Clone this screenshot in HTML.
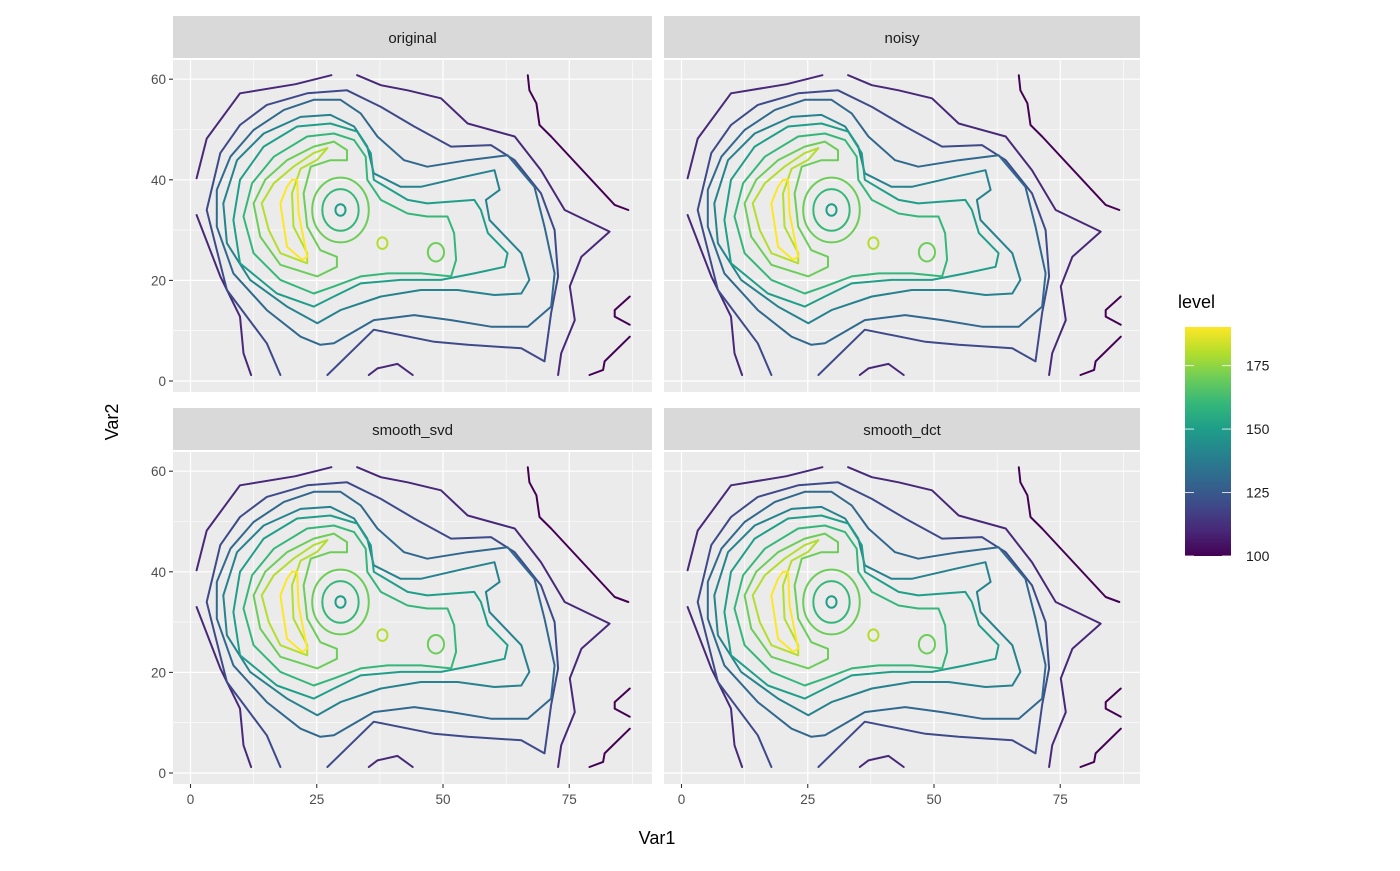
<!DOCTYPE html>
<html><head><meta charset="utf-8">
<style>
html,body{margin:0;padding:0;background:#fff;}
svg text{font-family:"Liberation Sans",Arial,sans-serif;}
</style></head>
<body>
<svg id="chart" width="1400" height="866" xmlns="http://www.w3.org/2000/svg"></svg>
<script>
// ---- data (contour lines in data units: [x,y,x,y,...]) ----
const panelNames = ["original","noisy","smooth_svd","smooth_dct"];
const xTicks = [0,25,50,75];
const yTicks = [0,20,40,60];
const legendTicks = [100,125,150,175];
const lineLevels = [100,100,100,110,110,110,110,120,130,140,150,160,170,180,190];
const linePoints = [
 [66.8,60.8,67.1,57.8,68.5,55.2,69.1,50.9,71.4,48.6,84.0,35.0,86.7,34.0],
 [87.0,16.8,84.0,14.1,84.0,12.8,87.0,11.2],
 [87.0,8.8,82.0,3.9,81.7,2.2,79.0,1.2],
 [1.2,33.0,5.9,20.8,9.8,12.8,10.5,5.5,12.0,1.2],
 [1.2,40.3,3.2,48.2,9.8,57.2,20.8,59.0,27.9,60.8],
 [33.0,60.8,37.7,58.8,43.0,57.8,49.6,56.2,54.9,51.2,64.2,48.6,69.4,41.9,74.1,34.0,83.0,29.7,77.4,24.7,75.1,18.8,76.1,12.1,73.4,5.5,72.8,1.2],
 [35.3,1.2,37.0,2.5,41.0,3.4,44.0,1.2],
 [17.8,1.2,15.1,7.5,7.2,18.1,3.2,34.0,5.9,45.3,9.8,50.9,15.1,54.9,23.1,57.2,31.0,57.8,37.7,54.5,44.3,50.6,51.6,46.6,59.5,46.9,64.2,43.9,69.4,37.3,72.1,30.0,72.8,20.8,71.4,13.5,70.1,3.9,65.5,6.5,54.9,7.2,48.3,7.8,36.3,10.2,27.1,1.2],
 [25.7,7.2,21.8,8.8,15.1,14.1,8.5,21.4,5.2,30.7,5.2,38.0,7.9,44.6,12.5,49.9,18.5,53.9,24.4,55.9,29.7,55.9,33.7,53.2,37.0,48.6,42.3,43.9,46.9,42.6,54.9,43.9,62.8,44.9,68.1,38.6,70.1,30.7,72.1,21.4,71.4,14.8,66.8,10.8,59.5,10.8,51.6,12.1,44.3,13.1,36.3,12.1,28.4,7.5,25.7,7.2],
 [25.1,11.5,19.1,14.8,11.8,20.1,7.2,27.4,6.5,35.3,9.2,43.9,14.5,49.2,21.8,52.5,27.7,52.9,32.4,50.6,35.0,46.6,36.3,41.3,41.6,38.6,45.6,38.6,54.2,40.6,60.2,41.9,61.2,38.0,58.5,36.0,59.2,32.0,65.5,25.4,67.1,20.1,65.5,17.4,60.2,17.1,52.9,18.1,45.6,18.1,37.7,16.8,29.7,14.1,25.1,11.5],
 [24.4,14.8,17.1,17.4,9.8,23.4,8.5,32.0,9.8,40.0,14.5,46.6,21.1,50.6,27.7,51.2,33.0,49.6,35.7,45.3,36.3,40.0,43.0,36.0,46.9,35.3,56.2,36.0,57.5,34.0,58.9,29.4,62.8,25.4,62.2,22.7,56.2,21.4,49.6,20.1,41.6,20.1,33.7,19.4,28.4,16.8,24.4,14.8],
 [24.4,17.4,17.8,20.1,12.5,25.4,10.5,32.7,12.2,39.3,16.5,44.6,23.1,48.6,28.4,49.2,32.4,47.9,34.7,44.6,35.0,40.0,37.7,36.0,43.0,33.3,46.9,32.7,50.9,32.7,52.2,29.4,52.6,24.1,51.6,20.8,45.6,21.4,39.0,21.4,33.7,20.8,28.4,18.8,24.4,17.4],
 [25.1,20.8,17.8,23.1,13.8,28.7,12.5,35.3,14.8,40.0,19.1,43.9,24.4,46.6,28.4,47.6,31.0,45.9,31.0,43.9,27.7,43.9,23.8,42.6,22.4,37.3,23.1,30.7,25.7,26.0,29.0,24.7,29.0,22.7,25.1,20.8],
 [23.1,23.4,17.8,25.4,15.5,30.0,14.1,35.3,16.5,39.3,20.4,42.6,24.4,45.3,27.1,46.3,25.1,44.0,21.8,42.2,20.1,37.3,20.4,30.7,23.1,25.4,23.1,23.4],
 [20.1,40.0,21.1,40.0,21.4,33.3,23.1,24.7,22.1,24.1,19.1,26.7,18.1,33.3,17.8,35.3,19.1,38.6,20.1,40.0]
];
// closed rings: center x, center y, radius (data units), level
const ringX = [29.7,29.7,29.7,38.0,48.6];
const ringY = [34.0,34.0,34.0,27.4,25.6];
const ringR = [5.6,3.6,1.0,1.0,1.6];
const ringLevels = [170,160,150,180,170];

// ---- layout ----
const svg = document.getElementById('chart');
const NS = 'http://www.w3.org/2000/svg';
function mk(tag, attrs, parent){const e=document.createElementNS(NS,tag);for(const k in attrs)e.setAttribute(k,attrs[k]);(parent||svg).appendChild(e);return e;}
const panels = [
 {left:173,right:652,top:60,bottom:392,stripTop:16,x0:190.5,y0:381},
 {left:664,right:1140,top:60,bottom:392,stripTop:16,x0:681.5,y0:381},
 {left:173,right:652,top:452,bottom:784,stripTop:408,x0:190.5,y0:773},
 {left:664,right:1140,top:452,bottom:784,stripTop:408,x0:681.5,y0:773}
];
const XS = 5.05, YS = 5.03;
const viridis = ["#440154","#482878","#3E4A89","#31688E","#26828E","#1F9E89","#35B779","#6DCD59","#B4DE2C","#FDE725"];
const LMIN=100, LMAX=190.2;
function hex(c){return [parseInt(c.slice(1,3),16),parseInt(c.slice(3,5),16),parseInt(c.slice(5,7),16)];}
function color(v){let t=(v-LMIN)/(LMAX-LMIN);t=Math.max(0,Math.min(1,t));const p=t*(viridis.length-1);const i=Math.min(Math.floor(p),viridis.length-2);const f=p-i;const a=hex(viridis[i]),b=hex(viridis[i+1]);return 'rgb('+a.map((q,j)=>Math.round(q+(b[j]-q)*f)).join(',')+')';}

panels.forEach((p,pi)=>{
  const g = mk('g',{});
  
  
  const sx = d=>p.x0+d*XS, sy = d=>p.y0-d*YS;
  const bg = mk('rect',{x:p.left,y:p.top,width:p.right-p.left,height:p.bottom-p.top,fill:'#EBEBEB'},g);
  
  
  // minor grid
  [12.5,37.5,62.5,87.5].forEach(v=>{const l=mk('line',{x1:sx(v),x2:sx(v),y1:p.top,y2:p.bottom,stroke:'#fff','stroke-width':0.6},g);});
  [10,30,50].forEach(v=>{const l=mk('line',{x1:p.left,x2:p.right,y1:sy(v),y2:sy(v),stroke:'#fff','stroke-width':0.6},g);});
  xTicks.forEach(v=>{const l=mk('line',{x1:sx(v),x2:sx(v),y1:p.top,y2:p.bottom,stroke:'#fff','stroke-width':1.2},g);});
  yTicks.forEach(v=>{const l=mk('line',{x1:p.left,x2:p.right,y1:sy(v),y2:sy(v),stroke:'#fff','stroke-width':1.2},g);});
  // strip
  const st = mk('rect',{x:p.left,y:p.stripTop,width:p.right-p.left,height:42,fill:'#D9D9D9'},g);
  
  
  const stt = mk('text',{x:(p.left+p.right)/2,y:p.stripTop+27,'text-anchor':'middle','font-size':15,fill:'#1A1A1A'},g);
  stt.textContent = panelNames[pi];
  
  
  // contours
  const cg = mk('g',{fill:'none','stroke-width':2,'stroke-linejoin':'round','stroke-linecap':'round'},g);
  linePoints.forEach((pts,i)=>{
    let d='';
    for(let k=0;k<pts.length;k+=2){d+=(k?'L':'M')+sx(pts[k]).toFixed(1)+','+sy(pts[k+1]).toFixed(1);}
    const path = mk('path',{d:d,stroke:color(lineLevels[i])},cg);
    
    
  });
  ringX.forEach((cx,i)=>{
    const e = mk('ellipse',{cx:sx(cx),cy:sy(ringY[i]),rx:ringR[i]*XS,ry:ringR[i]*YS*1.15,stroke:color(ringLevels[i])},cg);
    
    
  });
  // y axis ticks (left panels)
  if(pi%2===0){
    yTicks.forEach(v=>{
      const t=mk('line',{x1:p.left-4,x2:p.left,y1:sy(v),y2:sy(v),stroke:'#333','stroke-width':1.1});
      
      
      const tl=mk('text',{x:p.left-7,y:sy(v)+5,'text-anchor':'end','font-size':13.5,fill:'#4D4D4D'});
      tl.textContent=v;
      
      
    });
  }
  if(pi>=2){
    xTicks.forEach(v=>{
      const t=mk('line',{x1:sx(v),x2:sx(v),y1:p.bottom,y2:p.bottom+4,stroke:'#333','stroke-width':1.1});
      
      
      const tl=mk('text',{x:sx(v),y:p.bottom+20,'text-anchor':'middle','font-size':13.5,fill:'#4D4D4D'});
      tl.textContent=v;
      
      
    });
  }
});
// axis titles
const xt = mk('text',{x:657,y:844,'text-anchor':'middle','font-size':18,fill:'#000'});
xt.textContent='Var1';


const yt = mk('text',{x:0,y:0,'text-anchor':'middle','font-size':18,fill:'#000',transform:'translate(118,422) rotate(-90)'});
yt.textContent='Var2';


// legend
const lg = mk('g',{});


const defs = mk('defs',{});
const grad = mk('linearGradient',{id:'vir',x1:0,y1:1,x2:0,y2:0},defs);
viridis.forEach((c,i)=>mk('stop',{offset:(i/(viridis.length-1)),'stop-color':c},grad));
const lt = mk('text',{x:1178,y:308,'font-size':18,fill:'#000'},lg);
lt.textContent='level';


const barTop=327, barBot=556, ly = v=>barBot-(v-LMIN)/(LMAX-LMIN)*(barBot-barTop);
const bar = mk('rect',{x:1185,y:barTop,width:46,height:barBot-barTop,fill:'url(#vir)'},lg);


legendTicks.forEach(v=>{
  mk('line',{x1:1185,x2:1194,y1:ly(v),y2:ly(v),stroke:'#fff','stroke-width':1,'stroke-opacity':0.8},lg);
  mk('line',{x1:1222,x2:1231,y1:ly(v),y2:ly(v),stroke:'#fff','stroke-width':1,'stroke-opacity':0.8},lg);
  const t=mk('text',{x:1246,y:ly(v)+5,'font-size':14,fill:'#1A1A1A'},lg);
  t.textContent=v;
  
  
});
</script>
</body></html>
